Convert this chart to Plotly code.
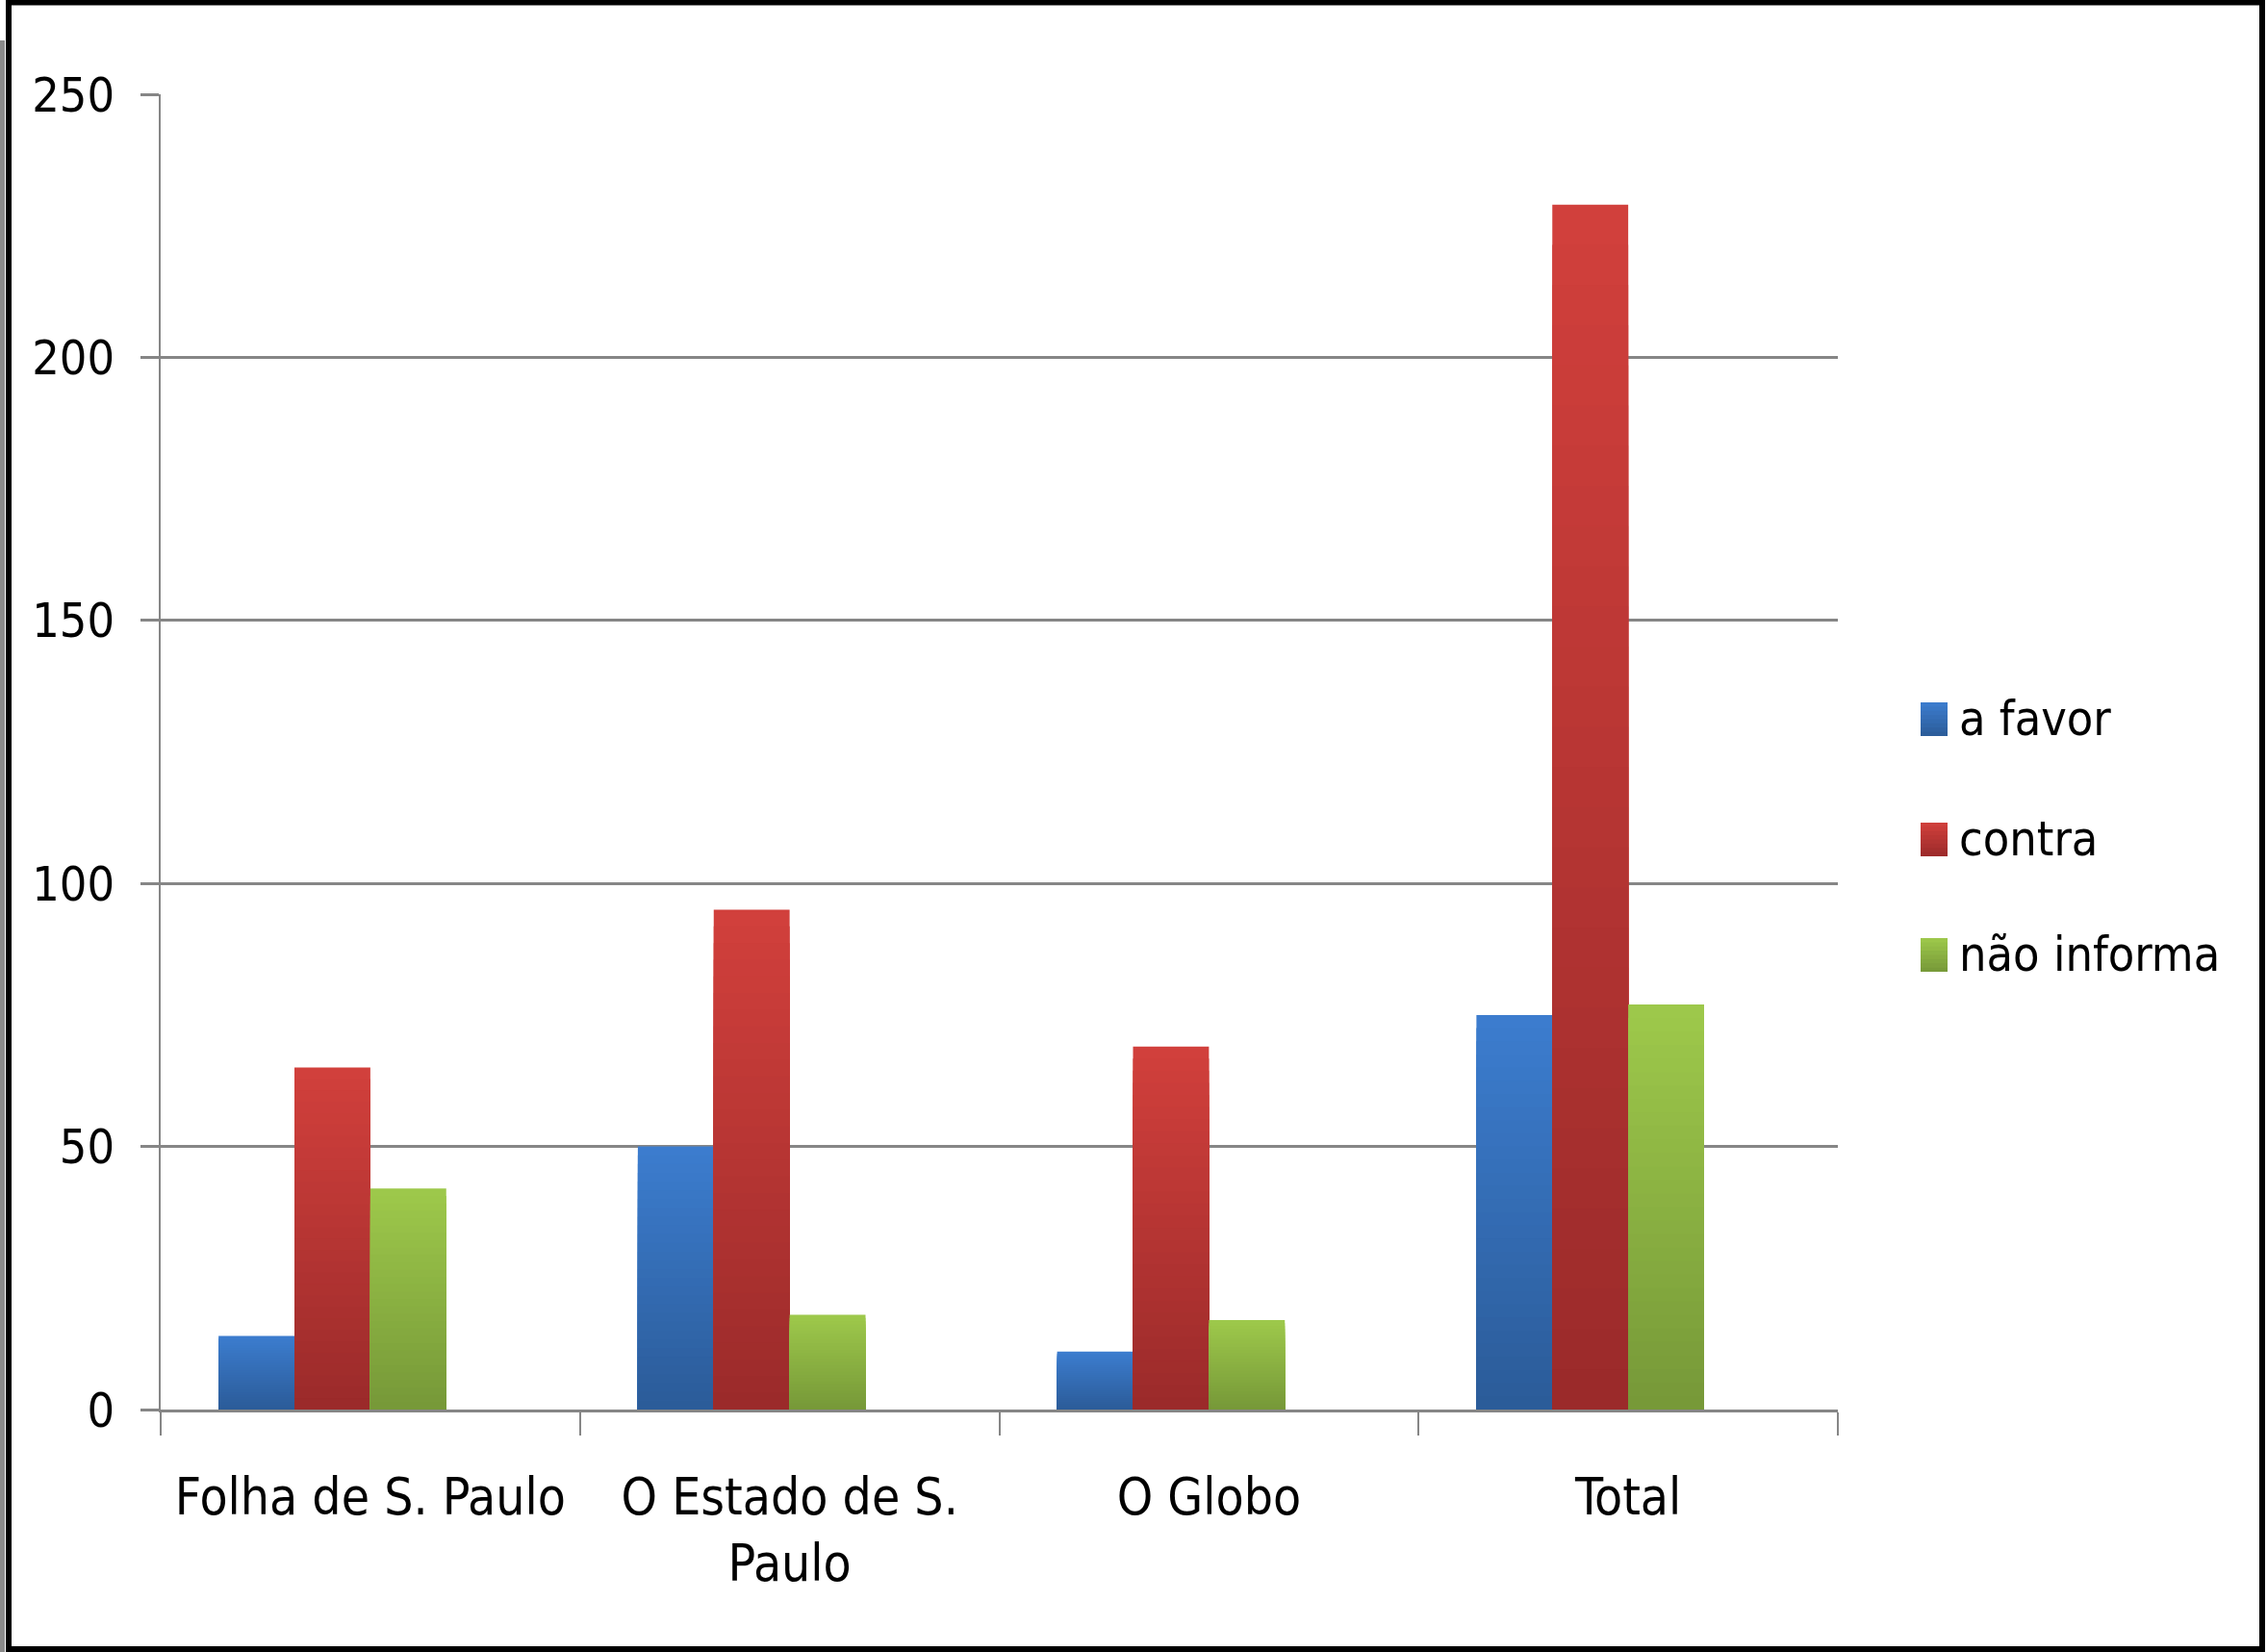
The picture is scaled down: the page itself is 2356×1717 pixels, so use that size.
import plotly.graph_objects as go

# data
categories = ["Folha de S. Paulo", "O Estado de S.<br>Paulo", "O Globo", "Total"]
series_names = ["a favor", "contra", "não informa"]
a_favor = [14, 50, 11, 75]
contra = [65, 95, 69, 229]
nao_informa = [42, 18, 17, 77]
y_ticks = [0, 50, 100, 150, 200, 250]

series = [a_favor, contra, nao_informa]
top_colors = ["#3C7DCF", "#D2403C", "#9EC94B"]
bottom_colors = ["#2B5B98", "#9A2A2A", "#769838"]

W, H = 2356, 1717
L, R, T, B = 167, 1910, 98, 1465   # plot area in pixels
FONT = "Liberation Sans Narrow, DejaVu Sans Condensed, Arial Narrow, sans-serif"
FS = 50
GRAY = "#868686"
STEPS = 30
BAR_W = 0.181        # in category units
GROUP_START = -0.362  # group sits a little left of the category centre, as in the original


def mix(c1, c2, t):
    a = [int(c1[i:i + 2], 16) for i in (1, 3, 5)]
    b = [int(c2[i:i + 2], 16) for i in (1, 3, 5)]
    return "#%02x%02x%02x" % tuple(round(a[i] + (b[i] - a[i]) * t) for i in range(3))


def px(x):
    return (x - L) / (R - L)


def py(y):
    return (B - y) / (B - T)


fig = go.Figure()

# fake vertical gradient: full bar first, then shorter ones on top of it,
# each shorter one a bit darker (no seams since they overlap)
for s, vals in enumerate(series):
    for k in range(STEPS):
        frac = (STEPS - k) / STEPS
        t = (STEPS - k - 0.5) / STEPS
        fig.add_trace(go.Bar(x=categories,
                             y=[v * frac for v in vals],
                             width=BAR_W, offset=GROUP_START + s * BAR_W,
                             marker=dict(color=mix(bottom_colors[s], top_colors[s], t), line_width=0),
                             showlegend=False,
                             hoverinfo="skip"))

shapes = []
annotations = []

# hand-made legend (big squares like the original)
leg_y = [747, 872, 992]
for s, name in enumerate(series_names):
    y0, y1 = leg_y[s] - 17, leg_y[s] + 18
    n = 8
    for k in range(n):
        shapes.append(dict(type="rect", xref="paper", yref="paper",
                           x0=px(1996), x1=px(2024),
                           y0=py(y1), y1=py(y1 - (y1 - y0) * (n - k) / n),
                           fillcolor=mix(bottom_colors[s], top_colors[s], (n - k - 0.5) / n),
                           line_width=0))
    annotations.append(dict(text=name, xref="paper", yref="paper",
                            x=px(2034), y=py(leg_y[s]), xanchor="left", yanchor="middle",
                            showarrow=False, font=dict(family=FONT, size=FS, color="black")))

# outer frame
shapes.append(dict(type="line", xref="paper", yref="paper",
                   x0=px(2.5), x1=px(2.5), y0=py(42), y1=py(H), line=dict(color="#8a8a8a", width=5)))
shapes.append(dict(type="rect", xref="paper", yref="paper",
                   x0=px(9), x1=px(2351), y0=py(2.5), y1=py(1714),
                   line=dict(color="black", width=6)))

fig.update_layout(
    width=W, height=H,
    margin=dict(l=L, r=W - R, t=T, b=H - B, autoexpand=False),
    paper_bgcolor="white", plot_bgcolor="white",
    barmode="overlay",
    showlegend=False,
    font=dict(family=FONT, size=FS, color="black"),
    shapes=shapes, annotations=annotations,
)

fig.update_xaxes(showline=True, linecolor=GRAY, linewidth=3, tickangle=0,
                 ticks="outside", tickson="boundaries", ticklen=24, tickwidth=2, tickcolor=GRAY,
                 showgrid=False, tickfont=dict(family=FONT, size=53, color="black"),
                 ticklabelstandoff=42)
fig.update_yaxes(range=[0, 250], tickvals=y_ticks, showgrid=True, gridcolor=GRAY, gridwidth=3,
                 showline=True, linecolor=GRAY, linewidth=2, zeroline=False,
                 ticks="outside", ticklen=19, tickwidth=3, tickcolor=GRAY,
                 tickfont=dict(family=FONT, size=FS, color="black"),
                 ticklabelstandoff=17)

# drop the default body margin so the figure sits flush in the window
fig.write_html("out.html", config={"displayModeBar": False},
               post_script="document.body.style.margin='0px';")
